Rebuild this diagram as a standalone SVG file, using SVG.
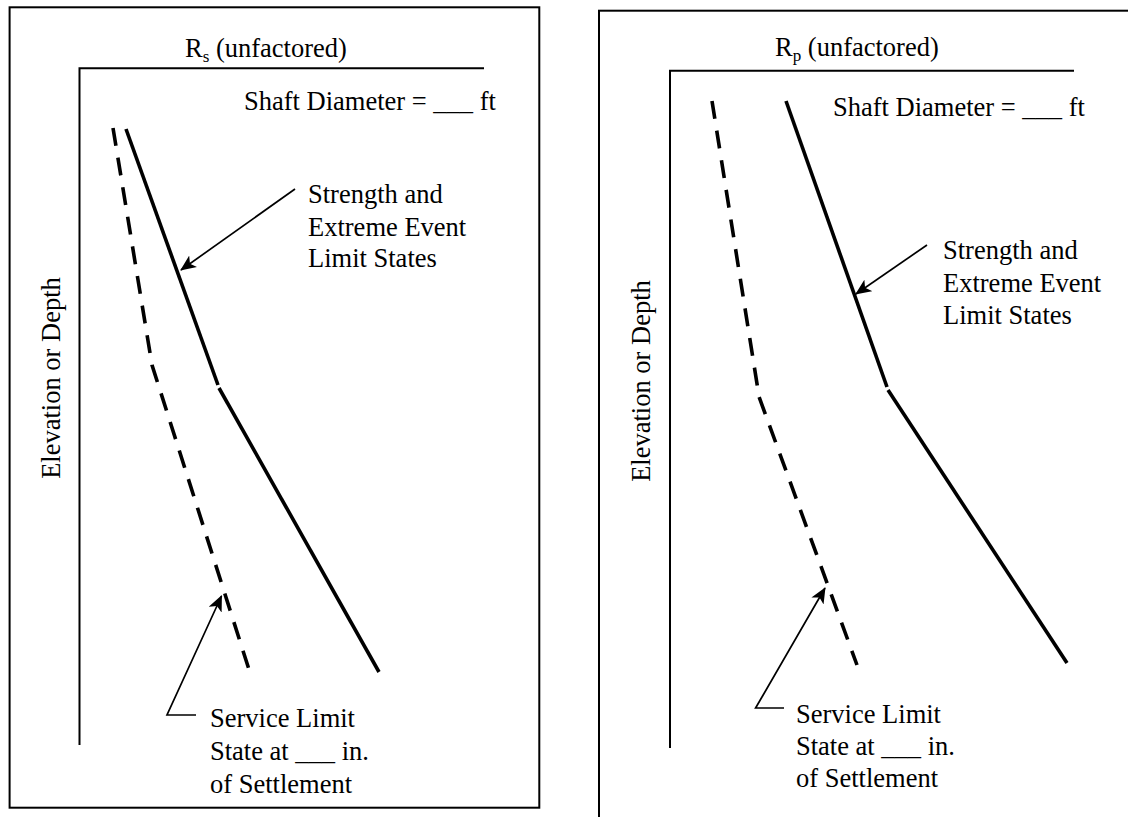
<svg xmlns="http://www.w3.org/2000/svg" width="1128" height="817" viewBox="0 0 1128 817">
<defs>
<style>
text{font-family:"Liberation Serif","Times New Roman",serif;font-size:26.5px;fill:#000}
.sub{font-size:17px}
.frame{fill:none;stroke:#000;stroke-width:2}
.axis{fill:none;stroke:#000;stroke-width:2}
.curve{fill:none;stroke:#000;stroke-width:3.6;stroke-linejoin:miter}
.dash{fill:none;stroke:#000;stroke-width:3.6;stroke-dasharray:18 12}
.lead{fill:none;stroke:#000;stroke-width:1.7}
</style>
<marker id="ah" markerUnits="userSpaceOnUse" markerWidth="16" markerHeight="14" viewBox="0 0 16 14" refX="15" refY="7" orient="auto">
<path d="M0,0 L16,7 L0,14 L4,7 Z" fill="#000"/>
</marker>
</defs>
<rect width="1128" height="817" fill="#fff"/>

<g id="left-panel">
<rect class="frame" x="9.6" y="7.3" width="529.7" height="800.4"/>
<g id="left-axes">
<polyline class="axis" points="484,68.3 79.5,68.3 79.5,745"/>
<text x="185" y="57">R<tspan class="sub" dy="5">s</tspan><tspan dy="-5"> (unfactored)</tspan></text>
<text transform="translate(60,378) rotate(-90)" text-anchor="middle">Elevation or Depth</text>
<text x="244" y="110">Shaft Diameter = ___ ft</text>
</g>
<g id="left-strength">
<polyline class="curve" points="126,129 218,385"/>
<polyline class="curve" points="219,388 379,672"/>
<text x="308" y="203">Strength and</text>
<text x="308" y="236">Extreme Event</text>
<text x="308" y="267">Limit States</text>
</g>
<g id="left-service">
<polyline class="dash" points="113,128 152,365 252,679"/>
<text x="210" y="727">Service Limit</text>
<text x="210" y="760">State at ___ in.</text>
<text x="210" y="793">of Settlement</text>
</g>
</g>

<g id="right-panel">
<rect class="frame" x="599" y="10.7" width="600" height="900"/>
<g id="right-axes">
<polyline class="axis" points="1074,70.7 670,70.7 670,748"/>
<text x="775" y="56">R<tspan class="sub" dy="5">p</tspan><tspan dy="-5"> (unfactored)</tspan></text>
<text transform="translate(650,381) rotate(-90)" text-anchor="middle">Elevation or Depth</text>
<text x="833" y="116">Shaft Diameter = ___ ft</text>
</g>
<g id="right-strength">
<polyline class="curve" points="786,101 887,387"/>
<polyline class="curve" points="888,390 1067,663"/>
<text x="943" y="259">Strength and</text>
<text x="943" y="292">Extreme Event</text>
<text x="943" y="324">Limit States</text>
</g>
<g id="right-service">
<polyline class="dash" points="712,101 758,390 758,394 857,665"/>
<text x="796" y="723">Service Limit</text>
<text x="796" y="755">State at ___ in.</text>
<text x="796" y="787">of Settlement</text>
</g>
</g>

<g id="connectors">
<line class="lead" x1="295" y1="189" x2="181" y2="270" marker-end="url(#ah)"/>
<polyline class="lead" points="196,715 167,715 221.5,596" marker-end="url(#ah)"/>
<line class="lead" x1="927" y1="245" x2="856" y2="294" marker-end="url(#ah)"/>
<polyline class="lead" points="784,708 755.6,708 825,588" marker-end="url(#ah)"/>
</g>
</svg>
